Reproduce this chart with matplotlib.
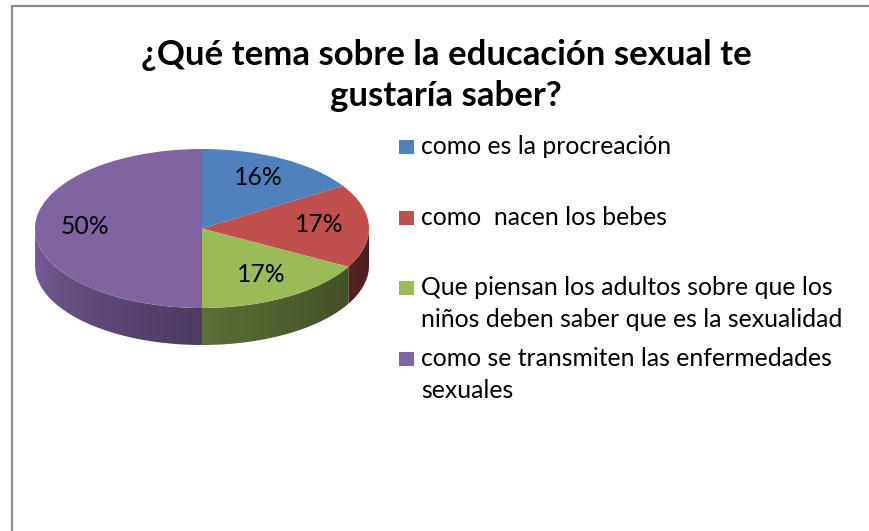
import matplotlib
matplotlib.use("Agg")
import matplotlib.pyplot as plt
import numpy as np
from matplotlib.patches import Rectangle, Polygon

plt.rcParams['font.family'] = ['Lato', 'DejaVu Sans']

# datos
categorias = ['como es la procreación',
              'como  nacen los bebes',
              'Que piensan los adultos sobre que los\nniños deben saber que es la sexualidad',
              'como se transmiten las enfermedades\nsexuales']
porcentajes = [16, 17, 17, 50]
colores = ['#4F81BD', '#C0504D', '#9BBB59', '#8064A2']
titulo = '¿Qué tema sobre la educación sexual te\ngustaría saber?'

W, H = 869, 531
fig = plt.figure(figsize=(W / 100, H / 100), dpi=100)

# marco del grafico (solo izquierda y arriba visibles)
fig.add_artist(Rectangle((12 / W, -0.1), 1.2, (H - 6) / H + 0.1, transform=fig.transFigure,
                         fill=False, edgecolor='#8c8c8c', linewidth=1.6))

# ejes del pastel: radio 1 -> 167 px en x, 79.5 px en y
cx, cy = 202, 228.5
rx, ry = 167, 79.5
xl, yl_top, yl_bot = 1.2, 1.2, 1.8
ax = fig.add_axes([(cx - xl * rx) / W, (H - (cy + yl_bot * ry)) / H,
                   2 * xl * rx / W, (yl_top + yl_bot) * ry / H])

prof = 37 / ry  # grosor del pastel


def sombra(c, theta):
    f = 0.4 + 0.55 * ((360 - theta) / 180) ** 1.5
    return np.clip(np.outer(f, matplotlib.colors.to_rgb(c)), 0, 1)


# lados del pastel 3D con degradado
inicio = 90.0
for val, col in zip(porcentajes, colores):
    fin = inicio - val * 3.6
    angs = np.linspace(fin, inicio, 400) % 360
    angs = np.sort(angs[(angs >= 180) & (angs <= 360)])
    if len(angs) > 1:
        t = np.radians(angs)
        xs = np.concatenate([np.cos(t), np.cos(t[::-1])])
        ys = np.concatenate([np.sin(t), np.sin(t[::-1]) - prof])
        poly = Polygon(np.column_stack([xs, ys]), closed=True, facecolor='none',
                       edgecolor='none')
        ax.add_patch(poly)
        gx = np.linspace(-1, 1, 600)
        theta = 360 - np.degrees(np.arccos(gx))
        img = sombra(col, theta)[np.newaxis, :, :]
        im = ax.imshow(img, extent=(-1, 1, -1 - prof, 0.1), aspect='auto',
                       interpolation='bilinear', zorder=1)
        im.set_clip_path(poly)
    inicio = fin

wedges, textos, autotextos = ax.pie(porcentajes, colors=colores, startangle=90,
                                    counterclock=False, autopct='%1.0f%%',
                                    pctdistance=0.7,
                                    wedgeprops=dict(linewidth=0),
                                    textprops=dict(fontsize=17.8, color='black'))
for w in wedges:
    w.set_zorder(2)
for t in autotextos:
    x, y = t.get_position()
    t.set_position((x, y + 0.03))
    t.set_zorder(3)

ax.set_aspect('auto')
ax.set_xlim(-xl, xl)
ax.set_ylim(-yl_bot, yl_top)
ax.axis('off')

# titulo
fig.text(446 / W, 1 - 75.5 / H, titulo, ha='center', va='center', fontsize=25,
         fontweight='bold', linespacing=1.38)

# leyenda
for i, (lab, col) in enumerate(zip(categorias, colores)):
    y = 147 + i * 70.5
    fig.add_artist(Rectangle((399 / W, 1 - (y + 7) / H), 15 / W, 14 / H,
                             transform=fig.transFigure, facecolor=col, edgecolor='none'))
    for j, linea in enumerate(lab.split('\n')):
        fig.text(421 / W, 1 - (y + 7 + j * 32) / H, linea, ha='left', va='baseline',
                 fontsize=17.8)

fig.savefig('out.png', dpi=100)
